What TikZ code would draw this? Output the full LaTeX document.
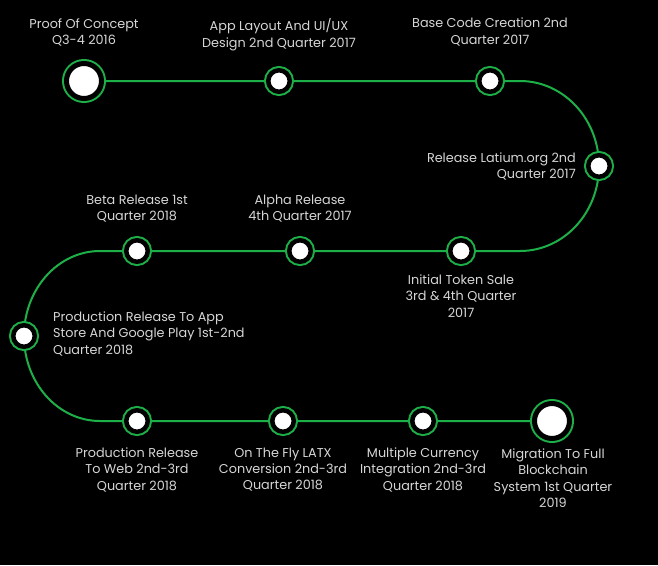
\documentclass[tikz,border=0pt]{standalone}
\usepackage{fontspec}
\setmainfont{Poppins}
\usetikzlibrary{backgrounds}
\definecolor{trackgreen}{RGB}{30,176,72}
\definecolor{labelgrey}{RGB}{214,214,214}
\begin{document}
\begin{tikzpicture}[x=1pt,y=-1pt,
  track/.style={draw=trackgreen, line width=2pt},
  smallstone/.style={circle, inner sep=0pt, minimum size=21.5pt, fill=white, draw=black, line width=4.5pt, preaction={draw=trackgreen, line width=8.5pt}},
  bigstone/.style={circle, inner sep=0pt, minimum size=35pt, fill=white, draw=black, line width=5pt, preaction={draw=trackgreen, line width=9pt}},
  lbl/.style={text=labelgrey, font=\fontsize{12.8}{16.4}\selectfont, inner sep=0pt, align=center, anchor=north}
]
\useasboundingbox (0,0) rectangle (658,565);
% milestones
\node[bigstone]   (n1)  at (84,81)  {};
\node[smallstone] (n2)  at (279,81) {};
\node[smallstone] (n3)  at (490,81) {};
\node[smallstone] (n4)  at (599,166) {};
\node[smallstone] (n5)  at (461,251) {};
\node[smallstone] (n6)  at (300,251) {};
\node[smallstone] (n7)  at (137,251) {};
\node[smallstone] (n8)  at (24,336) {};
\node[smallstone] (n9)  at (137,421) {};
\node[smallstone] (n10) at (283,421) {};
\node[smallstone] (n11) at (423,421) {};
\node[bigstone]   (n12) at (552,421) {};
\coordinate (tr) at (520,81);
\coordinate (tl) at (100,251);
% track
\begin{scope}[on background layer]
  \fill[black] (0,0) rectangle (658,565);
  \draw[track] (n1) -- (n2) -- (n3) -- (tr)
    arc[start angle=-90, end angle=90, x radius=79, y radius=85] -- (n5) -- (n6) -- (n7) -- (tl)
    arc[start angle=270, end angle=90, x radius=76, y radius=85] -- (n9) -- (n10) -- (n11) -- (n12);
\end{scope}
% labels
\node[lbl] (l1) at (84,18.5) {Proof Of Concept\\Q3-4 2016};
\node[lbl] (l2) at (279,18.5) {App Layout And UI/UX\\Design 2nd Quarter 2017};
\node[lbl] (l3) at (490,18) {Base Code Creation 2nd\\Quarter 2017};
\node[lbl, anchor=north east, align=right] (l4) at (576,152.5) {Release Latium.org 2nd\\Quarter 2017};
\node[lbl] (l5) at (461,274.5) {Initial Token Sale\\3rd \& 4th Quarter\\2017};
\node[lbl] (l6) at (300,194.5) {Alpha Release\\4th Quarter 2017};
\node[lbl] (l7) at (137,194.5) {Beta Release 1st\\Quarter 2018};
\node[lbl, anchor=north west, align=left] (l8) at (53,311.5) {Production Release To App\\Store And Google Play 1st-2nd\\Quarter 2018};
\node[lbl] (l9) at (137,447.5) {Production Release\\To Web 2nd-3rd\\Quarter 2018};
\node[lbl] (l10) at (283,447.5) {On The Fly LATX\\Conversion 2nd-3rd\\Quarter 2018};
\node[lbl] (l11) at (423,447.5) {Multiple Currency\\Integration 2nd-3rd\\Quarter 2018};
\node[lbl] (l12) at (553,448.5) {Migration To Full\\Blockchain\\System 1st Quarter\\2019};
\end{tikzpicture}
\end{document}
